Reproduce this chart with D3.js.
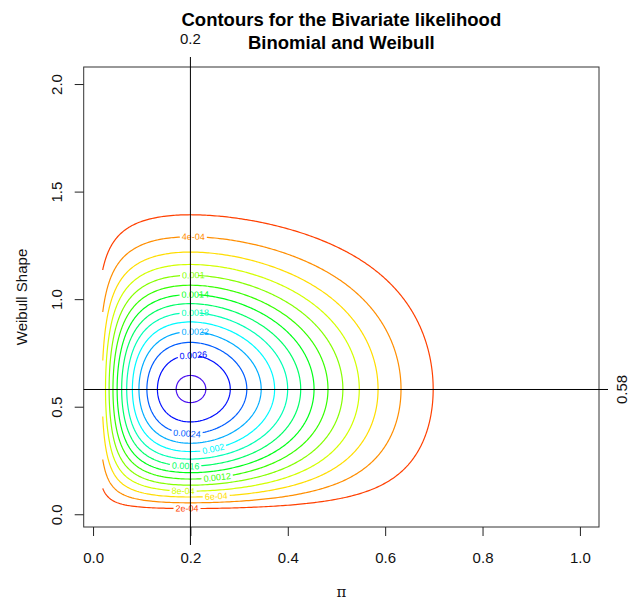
<!DOCTYPE html>
<html>
<head>
<meta charset="utf-8">
<script src="https://cdn.jsdelivr.net/npm/d3@7"></script>
<style>
body { margin: 0; background: #fff; }
svg { display: block; font-family: "Liberation Sans", Arial, sans-serif; }
</style>
</head>
<body>
<svg width="629" height="601"></svg>
<script>
// contour levels of the joint likelihood
var levels = [0.0002, 0.0004, 0.0006, 0.0008, 0.001, 0.0012, 0.0014,
              0.0016, 0.0018, 0.002, 0.0022, 0.0024, 0.0026, 0.0028];
var levelLabels = ["2e-04", "4e-04", "6e-04", "8e-04", "0.001", "0.0012", "0.0014",
                   "0.0016", "0.0018", "0.002", "0.0022", "0.0024", "0.0026", "0.0028"];
// where each label sits (pi value, above or below the peak); last one has none
var labelPi = [0.193, 0.206, 0.253, 0.185, 0.206, 0.255, 0.21,
               0.19, 0.21, 0.247, 0.21, 0.193, 0.206, null];
var labelSide = ["bottom", "top", "bottom", "bottom", "top", "bottom", "top",
                 "bottom", "top", "bottom", "top", "bottom", "top", null];

// observed data: binomial trials / successes, one Weibull time (scale 1)
var binomTrials = 5, binomSuccesses = 1;
var weibullTime = 4, weibullScale = 1;

// parameter grid ranges
var piRange = [0.02, 1.0];
var shapeRange = [0.02, 2.0];

var xTicks = [0, 0.2, 0.4, 0.6, 0.8, 1.0];
var yTicks = [0, 0.5, 1.0, 1.5, 2.0];
var refPi = 0.2, refShape = 0.58;

var lineColors = ["#FF4000", "#FF8E00", "#FFDD00", "#D3FF00", "#85FF00", "#36FF00", "#00FF19",
                  "#00FF67", "#00FFB5", "#00FAFF", "#00ACFF", "#005DFF", "#000FFF", "#4A10F0"];

function likelihood(p, b) {
    var binom = Math.pow(p, binomSuccesses) * Math.pow(1 - p, binomTrials - binomSuccesses);
    var z = weibullTime / weibullScale;
    var weib = (b / weibullScale) * Math.pow(z, b - 1) * Math.exp(-Math.pow(z, b));
    return binom * weib;
}

var svg = d3.select("svg");
var box = {left: 83.7, right: 599, top: 67, bottom: 527};

var xPad = 0.04 * (piRange[1] - piRange[0]);
var yPad = 0.04 * (shapeRange[1] - shapeRange[0]);
var x = d3.scaleLinear().domain([piRange[0] - xPad, piRange[1] + xPad]).range([box.left, box.right]);
var y = d3.scaleLinear().domain([shapeRange[0] - yPad, shapeRange[1] + yPad]).range([box.bottom, box.top]);

// grid of likelihood values
var nx = 197, ny = 397;
var dPi = (piRange[1] - piRange[0]) / (nx - 1);
var dShape = (shapeRange[1] - shapeRange[0]) / (ny - 1);
var values = new Array(nx * ny);
for (var j = 0; j < ny; j++) {
    for (var i = 0; i < nx; i++) {
        values[j * nx + i] = likelihood(piRange[0] + i * dPi, shapeRange[0] + j * dShape);
    }
}

var contours = d3.contours().size([nx, ny]).thresholds(levels)(values);

function onEdge(p) { return p[0] <= 0 || p[0] >= nx || p[1] <= 0 || p[1] >= ny; }

function toPixel(p) {
    var gx = Math.max(0.5, Math.min(nx - 0.5, p[0]));
    var gy = Math.max(0.5, Math.min(ny - 0.5, p[1]));
    return [x(piRange[0] + (gx - 0.5) * dPi), y(shapeRange[0] + (gy - 0.5) * dShape)];
}

// split closed rings into open lines, dropping the parts running along the grid edge
function ringToLines(ring) {
    var runs = [], cur = [];
    for (var k = 0; k < ring.length - 1; k++) {
        var a = ring[k], b = ring[k + 1];
        if (onEdge(a) && onEdge(b)) {
            if (cur.length) runs.push(cur);
            cur = [];
            continue;
        }
        if (!cur.length) cur.push(a);
        cur.push(b);
    }
    if (cur.length) runs.push(cur);
    var n = ring.length;
    if (runs.length > 1 && !(onEdge(ring[0]) && onEdge(ring[1])) &&
        !(onEdge(ring[n - 2]) && onEdge(ring[n - 1]))) {
        var last = runs.pop();
        runs[0] = last.concat(runs[0].slice(1));
    }
    return runs.map(function(r) { return r.map(toPixel); });
}

function dist(a, b) { return Math.hypot(b[0] - a[0], b[1] - a[1]); }

function pointAt(line, cum, s) {
    for (var k = 1; k < line.length; k++) {
        if (cum[k] >= s) {
            var t = (s - cum[k - 1]) / (cum[k] - cum[k - 1] || 1);
            return [line[k - 1][0] + t * (line[k][0] - line[k - 1][0]),
                    line[k - 1][1] + t * (line[k][1] - line[k - 1][1])];
        }
    }
    return line[line.length - 1];
}

// box
svg.append("rect")
    .attr("x", box.left).attr("y", box.top)
    .attr("width", box.right - box.left).attr("height", box.bottom - box.top)
    .attr("fill", "none").attr("stroke", "#333").attr("stroke-width", 1);

// axes
var gx = svg.append("g")
    .attr("transform", "translate(0," + box.bottom + ")")
    .call(d3.axisBottom(x).tickValues(xTicks).tickFormat(d3.format(".1f")).tickSize(9));
gx.select(".domain").remove();
gx.selectAll("line").attr("stroke", "#222");
gx.selectAll("text").attr("y", 36).attr("dy", 0)
    .attr("font-size", 15).attr("font-family", "Liberation Sans, Arial, sans-serif").attr("fill", "#111");

var gy = svg.append("g")
    .attr("transform", "translate(" + box.left + ",0)")
    .call(d3.axisLeft(y).tickValues(yTicks).tickFormat(d3.format(".1f")).tickSize(9));
gy.select(".domain").remove();
gy.selectAll("line").attr("stroke", "#222");
gy.selectAll("text")
    .attr("x", null).attr("dy", null)
    .attr("text-anchor", "middle")
    .attr("transform", "translate(-21.7,0) rotate(-90)")
    .attr("font-size", 15).attr("font-family", "Liberation Sans, Arial, sans-serif").attr("fill", "#111");

var linesLayer = svg.append("g");
var labelLayer = svg.append("g");
var lineGen = d3.line();

contours.forEach(function(c, li) {
    var lines = [];
    c.coordinates.forEach(function(poly) {
        poly.forEach(function(ring) { lines = lines.concat(ringToLines(ring)); });
    });

    if (labelPi[li] != null) {
        var tx = x(labelPi[li]);
        var best = null;
        lines.forEach(function(line, lidx) {
            for (var k = 0; k < line.length - 1; k++) {
                var a = line[k], b = line[k + 1];
                if ((a[0] - tx) * (b[0] - tx) <= 0 && a[0] !== b[0]) {
                    var t = (tx - a[0]) / (b[0] - a[0]);
                    var py = a[1] + t * (b[1] - a[1]);
                    var better = !best || (labelSide[li] === "top" ? py < best.py : py > best.py);
                    if (better) best = {lidx: lidx, seg: k, py: py, pt: [tx, py]};
                }
            }
        });
        if (best) {
            var label = labelLayer.append("text")
                .text(levelLabels[li])
                .attr("font-size", 9)
                .attr("fill", lineColors[li])
                .attr("text-anchor", "middle")
                .attr("dominant-baseline", "central");
            var half = label.node().getComputedTextLength() / 2 + 2;
            var line = lines[best.lidx];
            var cum = [0];
            for (var k = 1; k < line.length; k++) cum.push(cum[k - 1] + dist(line[k - 1], line[k]));
            var s0 = cum[best.seg] + dist(line[best.seg], best.pt);
            var p1 = pointAt(line, cum, s0 - half), p2 = pointAt(line, cum, s0 + half);
            var before = line.filter(function(p, k) { return cum[k] < s0 - half; }).concat([p1]);
            var after = [p2].concat(line.filter(function(p, k) { return cum[k] > s0 + half; }));
            lines.splice(best.lidx, 1, before, after);
            var ang = Math.atan2(p2[1] - p1[1], p2[0] - p1[0]) * 180 / Math.PI;
            if (ang > 90) ang -= 180;
            if (ang < -90) ang += 180;
            label.attr("transform", "translate(" + best.pt[0] + "," + best.pt[1] + ") rotate(" + ang + ")");
        }
    }

    lines.forEach(function(line) {
        if (line.length < 2) return;
        linesLayer.append("path")
            .attr("d", lineGen(line))
            .attr("fill", "none")
            .attr("stroke", lineColors[li])
            .attr("stroke-width", 1.2);
    });
});

// reference lines at the maximum
svg.append("line")
    .attr("x1", x(refPi)).attr("x2", x(refPi))
    .attr("y1", box.top - 10).attr("y2", box.bottom + 18)
    .attr("stroke", "#000").attr("stroke-width", 1);
svg.append("line")
    .attr("x1", box.left).attr("x2", box.right + 9)
    .attr("y1", y(refShape)).attr("y2", y(refShape))
    .attr("stroke", "#000").attr("stroke-width", 1);

svg.append("text")
    .attr("x", x(refPi)).attr("y", 44)
    .attr("text-anchor", "middle").attr("font-size", 15).attr("fill", "#111")
    .text(refPi);
svg.append("text")
    .attr("transform", "translate(627," + y(refShape) + ") rotate(-90)")
    .attr("text-anchor", "middle").attr("font-size", 15).attr("fill", "#111")
    .text(refShape);

// titles
var cx = (box.left + box.right) / 2;
svg.append("text")
    .attr("x", cx).attr("y", 26)
    .attr("text-anchor", "middle").attr("font-size", 18.5).attr("font-weight", "bold")
    .text("Contours for the Bivariate likelihood");
svg.append("text")
    .attr("x", cx).attr("y", 49)
    .attr("text-anchor", "middle").attr("font-size", 18.5).attr("font-weight", "bold")
    .text("Binomial and Weibull");

svg.append("text")
    .attr("x", cx).attr("y", 597)
    .attr("text-anchor", "middle").attr("font-size", 15).attr("fill", "#111")
    .attr("font-family", "DejaVu Serif, serif")
    .text("π");
svg.append("text")
    .attr("transform", "translate(27," + ((box.top + box.bottom) / 2) + ") rotate(-90)")
    .attr("text-anchor", "middle").attr("font-size", 15).attr("fill", "#111")
    .text("Weibull Shape");
</script>
</body>
</html>
